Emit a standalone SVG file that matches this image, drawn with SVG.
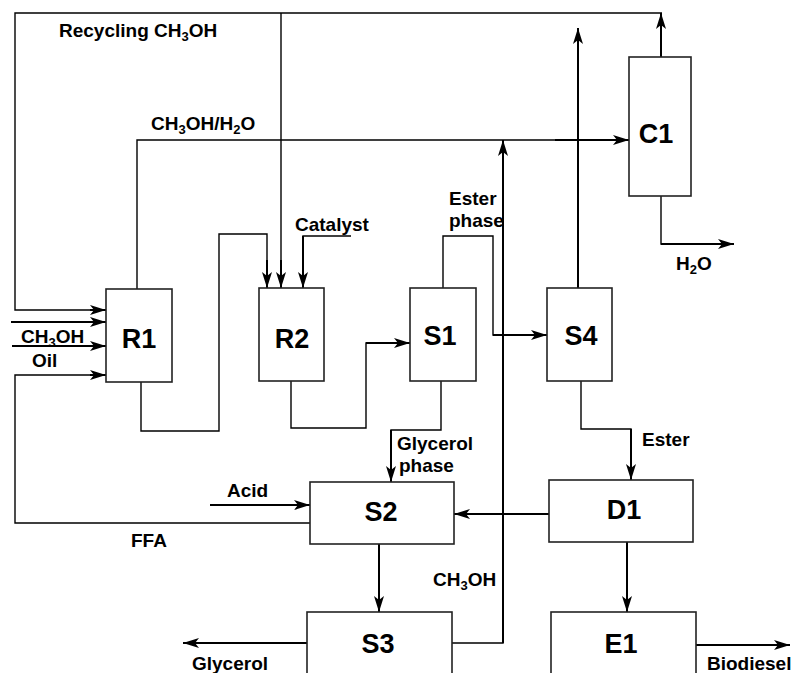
<svg xmlns="http://www.w3.org/2000/svg" width="795" height="673" viewBox="0 0 795 673">
<style>
.box{fill:#fff;stroke:#222;stroke-width:1.6}
.ln{fill:none;stroke:#000;stroke-width:1.4}
.ar{fill:none;stroke:#000;stroke-width:2;marker-end:url(#ah)}
.nt{font-family:"Liberation Sans",Arial,sans-serif;font-weight:bold;font-size:27px;text-anchor:middle;fill:#000}
.lb{font-family:"Liberation Sans",Arial,sans-serif;font-weight:bold;font-size:19px;fill:#000}
.sb{font-size:13px}
</style>
<defs>
<marker id="ah" viewBox="0 0 16 10" refX="16" refY="5" markerWidth="16" markerHeight="10" markerUnits="userSpaceOnUse" orient="auto">
<path d="M0,0 L16,5 L0,10 L4,5 z" fill="#000"/>
</marker>
</defs>
<g id="connectors">
<path class="ln" d="M662,13 H15 V310 H90"/>
<path class="ar" d="M90,310 H106"/>
<path class="ln" d="M281,13 V270"/>
<path class="ar" d="M281,260 V288"/>
<path class="ar" d="M11,322 H106"/>
<path class="ar" d="M12,346 H106"/>
<path class="ln" d="M310,523 H15 V375 H90"/>
<path class="ar" d="M90,375 H106"/>
<path class="ln" d="M137,289 V140 H600"/>
<path class="ar" d="M555,140 H629"/>
<path class="ln" d="M141,382 V431 H219 V234 H267 V270"/>
<path class="ar" d="M267,260 V288"/>
<path class="ln" d="M351,236 H303 V270"/>
<path class="ar" d="M303,236 V288"/>
<path class="ln" d="M291,381 V428 H366 V343 H390"/>
<path class="ar" d="M366,343 H410"/>
<path class="ln" d="M443,288 V236 H493 V335 H520"/>
<path class="ar" d="M493,335 H547"/>
<path class="ln" d="M441,381 V430 H391 V460"/>
<path class="ar" d="M391,430 V482"/>
<path class="ar" d="M578,288 V28"/>
<path class="ln" d="M581,381 V429 H631 V460"/>
<path class="ar" d="M631,429 V480"/>
<path class="ar" d="M661,57 V13"/>
<path class="ln" d="M661,196 V244 H700"/>
<path class="ar" d="M661,244 H734"/>
<path class="ar" d="M210,505 H310"/>
<path class="ar" d="M549,514 H454"/>
<path class="ar" d="M627,542 V612"/>
<path class="ar" d="M379,544 V612"/>
<path class="ar" d="M307,643 H183"/>
<path class="ln" d="M452,643 H503 V160"/>
<path class="ar" d="M503,643 V140"/>
<path class="ar" d="M696,645 H790"/>
</g>
<g id="R1"><rect class="box" x="106" y="289" width="66" height="93"/><text class="nt" x="139" y="348">R1</text></g>
<g id="R2"><rect class="box" x="259" y="288" width="65" height="93"/><text class="nt" x="292" y="348">R2</text></g>
<g id="S1"><rect class="box" x="410" y="288" width="66" height="93"/><text class="nt" x="440" y="345">S1</text></g>
<g id="S4"><rect class="box" x="547" y="288" width="65" height="93"/><text class="nt" x="581" y="345">S4</text></g>
<g id="C1"><rect class="box" x="629" y="57" width="62" height="139"/><text class="nt" x="656" y="143">C1</text></g>
<g id="S2"><rect class="box" x="310" y="482" width="144" height="62"/><text class="nt" x="381" y="521">S2</text></g>
<g id="D1"><rect class="box" x="549" y="480" width="144" height="62"/><text class="nt" x="624" y="519">D1</text></g>
<g id="S3"><rect class="box" x="307" y="612" width="145" height="70"/><text class="nt" x="378" y="653">S3</text></g>
<g id="E1"><rect class="box" x="551" y="612" width="145" height="70"/><text class="nt" x="621" y="653">E1</text></g>
<g id="labels">
<text class="lb" x="59" y="37">Recycling CH<tspan class="sb" dy="4">3</tspan><tspan dy="-4">OH</tspan></text>
<text class="lb" x="151" y="130">CH<tspan class="sb" dy="4">3</tspan><tspan dy="-4">OH/H</tspan><tspan class="sb" dy="4">2</tspan><tspan dy="-4">O</tspan></text>
<text class="lb" x="295" y="231">Catalyst</text>
<text class="lb" x="449" y="205">Ester</text>
<text class="lb" x="449" y="227">phase</text>
<text class="lb" x="676" y="270">H<tspan class="sb" dy="4">2</tspan><tspan dy="-4">O</tspan></text>
<text class="lb" x="21" y="343">CH<tspan class="sb" dy="4">3</tspan><tspan dy="-4">OH</tspan></text>
<text class="lb" x="32" y="367">Oil</text>
<text class="lb" x="397" y="450">Glycerol</text>
<text class="lb" x="399" y="472">phase</text>
<text class="lb" x="642" y="446">Ester</text>
<text class="lb" x="227" y="497">Acid</text>
<text class="lb" x="131" y="547">FFA</text>
<text class="lb" x="433" y="586">CH<tspan class="sb" dy="4">3</tspan><tspan dy="-4">OH</tspan></text>
<text class="lb" x="192" y="670">Glycerol</text>
<text class="lb" x="707" y="670">Biodiesel</text>
</g>
</svg>
